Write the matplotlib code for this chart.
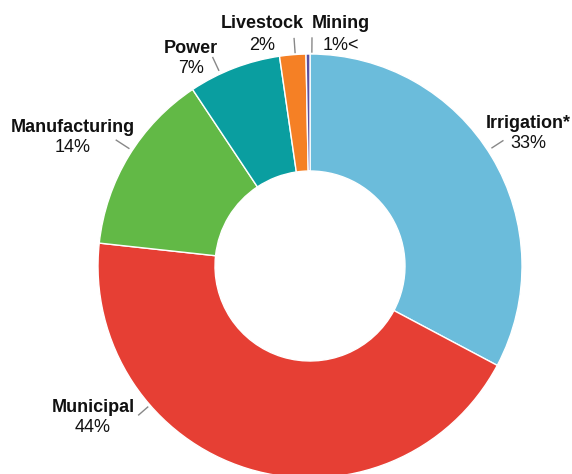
import numpy as np
import matplotlib
matplotlib.use("Agg")
import matplotlib.pyplot as plt

categories = ["Irrigation*", "Municipal", "Manufacturing", "Power", "Livestock", "Mining"]
shares = [32.8, 44.0, 13.95, 7.05, 2.0, 0.3]
pct_labels = ["33%", "44%", "14%", "7%", "2%", "1%<"]
colors = ["#6BBCDB", "#E63F34", "#62B946", "#0A9EA0", "#F58025", "#5B4FA0"]

W, H = 572, 474
plt.rcParams['font.family'] = ['Liberation Sans', 'DejaVu Sans']
fig = plt.figure(figsize=(W / 100, H / 100), dpi=100)
ax = fig.add_axes([0, 0, 1, 1])

cx, cy = 310, H - 266
R = 212
ax.pie(shares, colors=colors, startangle=90, counterclock=False,
       center=(cx, cy), radius=R,
       wedgeprops=dict(width=117, edgecolor='white', linewidth=1))

# label placement (pixel coords from top-left): name x, name baseline y, pct baseline y
label_pos = [(528, 128, 148), (93, 412, 432), (73, 132, 152),
             (191, 53, 73), (262, 28, 50), (341, 28, 50)]
# leader line angles (deg) and radii
leader = [(33, 217, 230), (221, 215, 227), (147, 216, 231),
          (115, 216, 230), (94, 214, 228), (89.5, 214, 228)]

for name, pct, (lx, ny, py), (ang, r0, r1) in zip(categories, pct_labels, label_pos, leader):
    ax.text(lx, H - ny, name, ha='center', va='baseline', fontsize=13,
            fontweight='bold', color='#111111')
    ax.text(lx, H - py, pct, ha='center', va='baseline', fontsize=13,
            color='#111111')
    a = np.deg2rad(ang)
    ax.plot([cx + r0 * np.cos(a), cx + r1 * np.cos(a)],
            [cy + r0 * np.sin(a), cy + r1 * np.sin(a)],
            color='#888888', lw=1)

ax.set_xlim(0, W)
ax.set_ylim(0, H)
ax.set_aspect('equal')
ax.axis('off')
fig.savefig("out.png", dpi=100)
